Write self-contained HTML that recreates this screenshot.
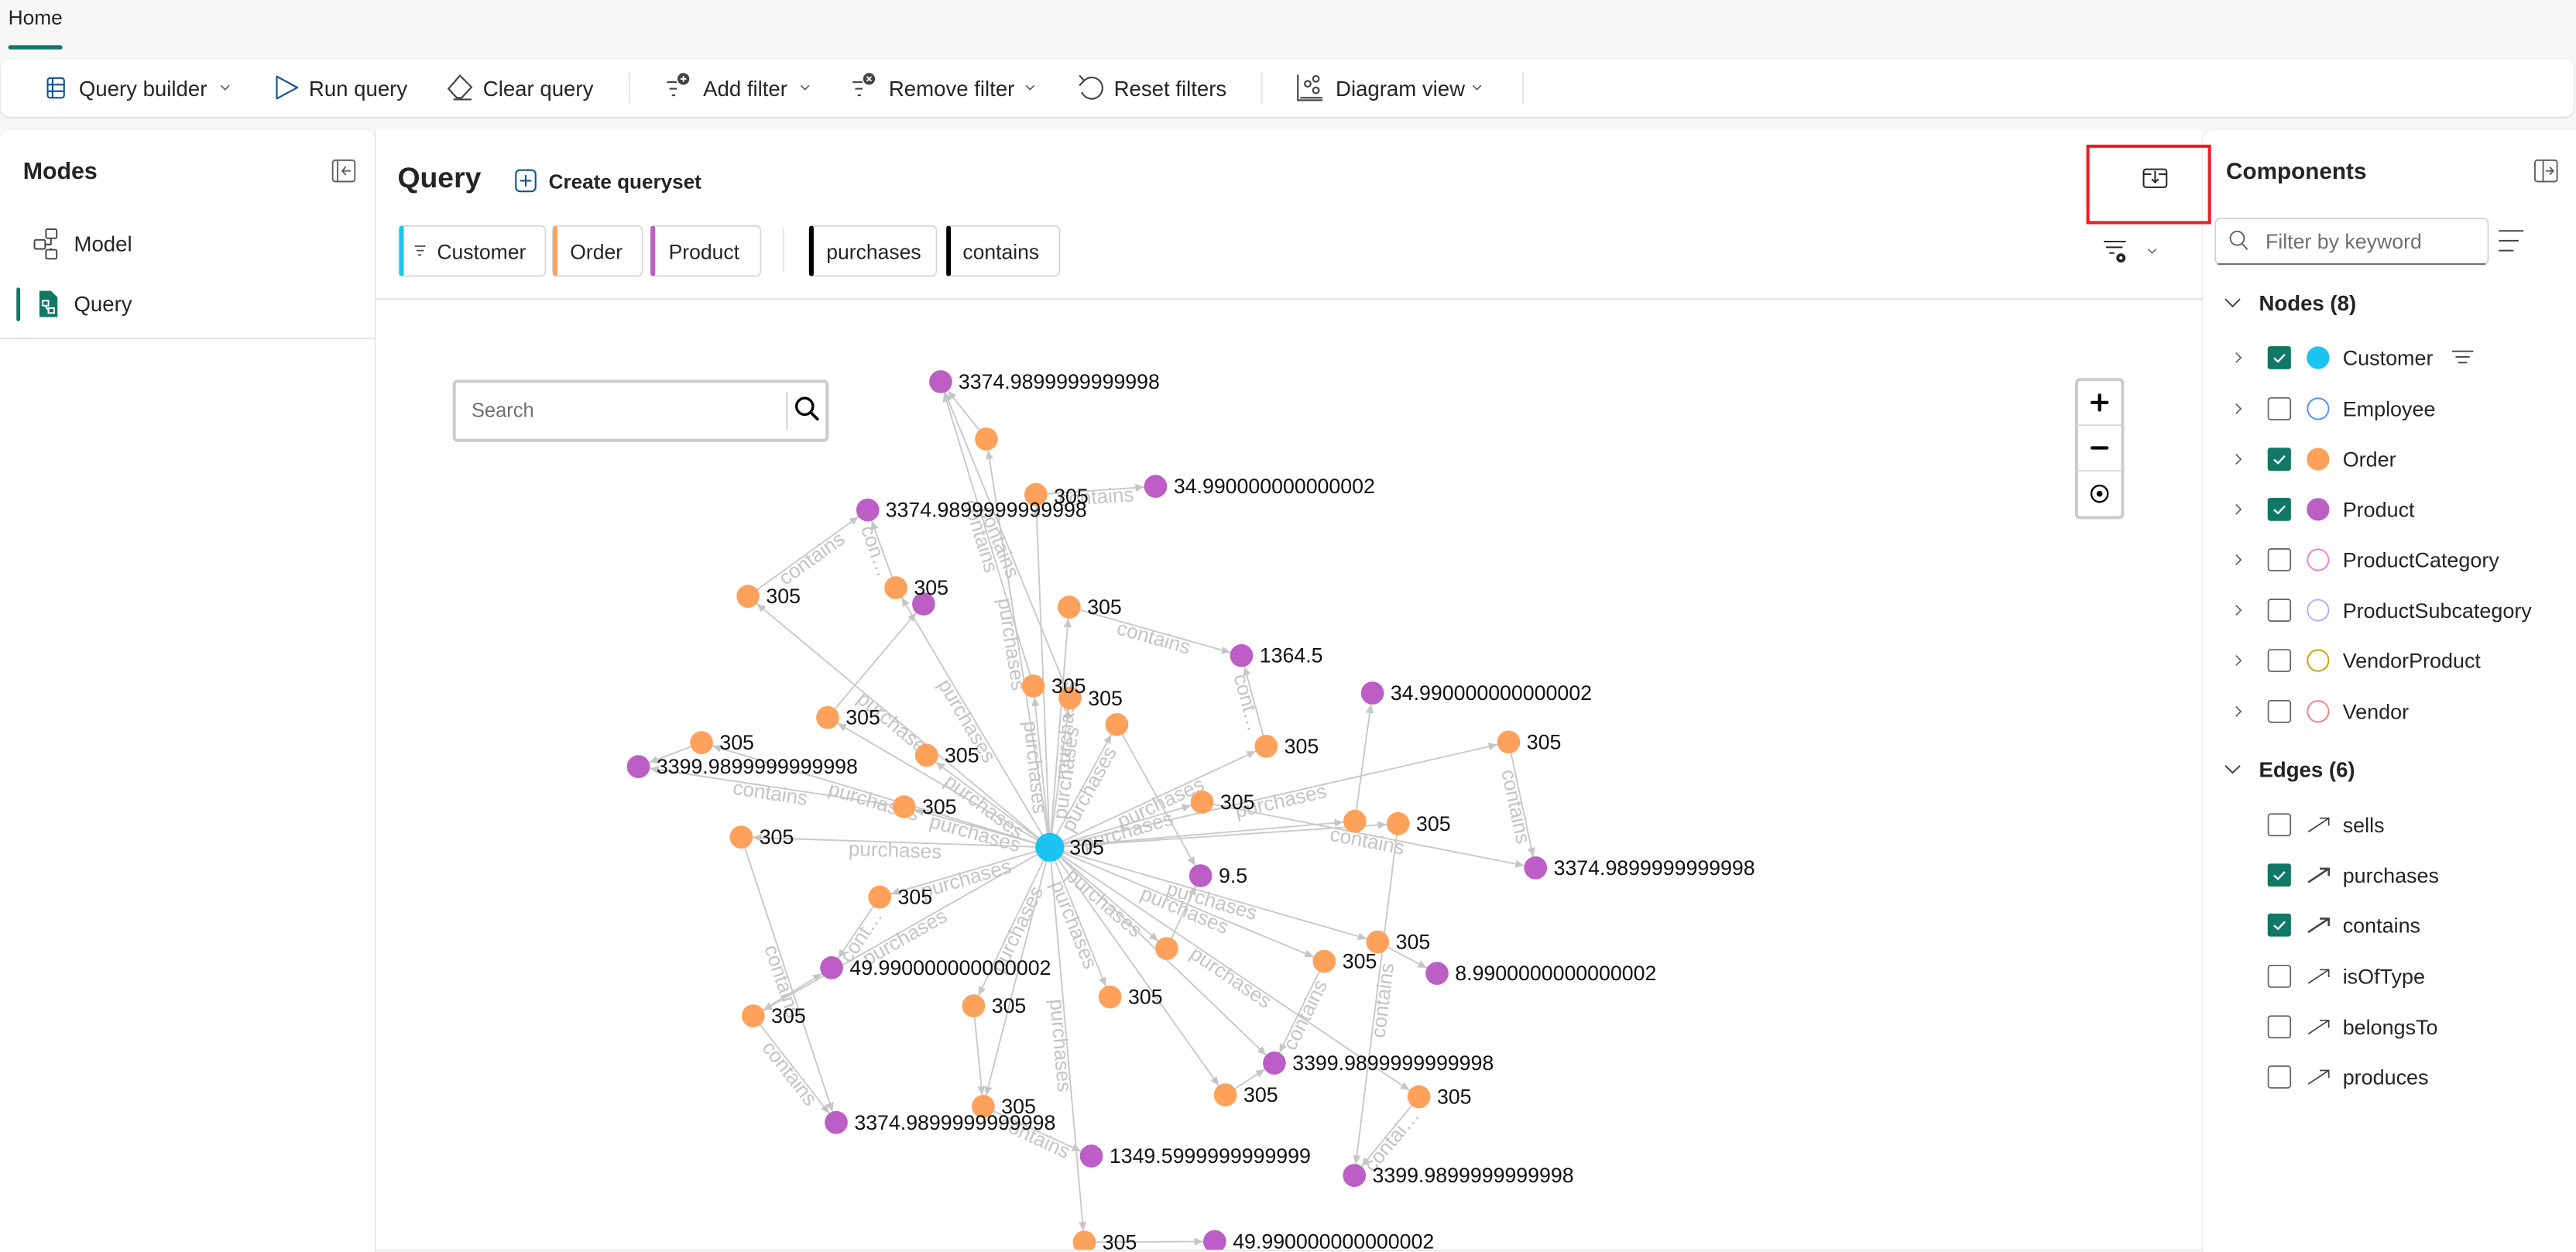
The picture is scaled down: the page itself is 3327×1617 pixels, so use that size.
<!DOCTYPE html>
<html><head><meta charset="utf-8"><style>
html,body{margin:0;padding:0;width:3327px;height:1617px;overflow:hidden;background:#f7f7f7}
svg{display:block}
</style></head><body>
<svg width="3327" height="1617" viewBox="0 0 1568 762" preserveAspectRatio="none" xmlns="http://www.w3.org/2000/svg" font-family="'Liberation Sans', Arial, sans-serif">
<defs>
<filter id="sh" x="-5%" y="-5%" width="110%" height="120%"><feDropShadow dx="0" dy="0.5" stdDeviation="0.8" flood-color="#000" flood-opacity="0.18"/></filter>
<marker id="a" markerUnits="userSpaceOnUse" orient="auto" refX="12.3" refY="0" markerWidth="8" markerHeight="8" style="overflow:visible"><path d="M0,-2.4 L5.3,0 L0,2.4 z" fill="#c6c6c6"/></marker>
<clipPath id="gc"><rect x="229" y="183" width="1111" height="578"/></clipPath>
</defs>
<rect x="0" y="0" width="1568" height="762" fill="#f7f7f7"/>

<!-- Home tab -->
<text x="5" y="10.5" font-size="12.4" fill="#242424" dominant-baseline="central">Home</text>
<rect x="5" y="27.5" width="33" height="2.6" rx="1.3" fill="#117865"/>

<!-- Toolbar -->
<rect x="0.5" y="36" width="1566" height="35" rx="5" fill="#fff" filter="url(#sh)"/>
<g font-size="13" fill="#242424">
<text x="48" y="54" dominant-baseline="central">Query builder</text>
<text x="188" y="54" dominant-baseline="central">Run query</text>
<text x="294" y="54" dominant-baseline="central">Clear query</text>
<text x="428" y="54" dominant-baseline="central">Add filter</text>
<text x="541" y="54" dominant-baseline="central">Remove filter</text>
<text x="678" y="54" dominant-baseline="central">Reset filters</text>
<text x="813" y="54" dominant-baseline="central">Diagram view</text>
</g>
<g stroke="#616161" stroke-width="0.8" fill="none">
<polyline points="134.5,52 137,54.5 139.5,52"/>
<polyline points="487.5,52 490,54.5 492.5,52"/>
<polyline points="624.5,52 627,54.5 629.5,52"/>
<polyline points="896.5,52 899,54.5 901.5,52"/>
</g>
<g stroke="#e0e0e0" stroke-width="0.8">
<line x1="383" y1="44" x2="383" y2="63"/><line x1="768" y1="44" x2="768" y2="63"/><line x1="927" y1="44" x2="927" y2="63"/>
</g>
<!-- toolbar icons -->
<g fill="none" stroke="#0f548c" stroke-width="1">
<rect x="29" y="47.5" width="10" height="12" rx="1.5"/><line x1="29" y1="51.5" x2="39" y2="51.5"/><line x1="29" y1="55.5" x2="39" y2="55.5"/><line x1="32" y1="47.5" x2="32" y2="59.5"/>
<path d="M168.5,46.5 L181,53.3 L168.5,60 Z" stroke-linejoin="round"/>
</g>
<g fill="none" stroke="#424242" stroke-width="1">
<path d="M280,46 L287,53 L281,59.5 L278,59.5 L273,54 Z"/><line x1="276" y1="60.5" x2="287" y2="60.5"/>
<line x1="406" y1="50" x2="412" y2="50"/><line x1="407.5" y1="54" x2="412" y2="54"/><line x1="409" y1="58" x2="411" y2="58"/>
<line x1="519" y1="50" x2="525" y2="50"/><line x1="520.5" y1="54" x2="525" y2="54"/><line x1="522" y1="58" x2="524" y2="58"/>
<path d="M660,49 A6.5,6.5 0 1 1 658.5,56"/><polyline points="657,46 660,49 657,52"/>
<polyline points="790,45.5 790,61 805,61"/><line x1="791.5" y1="59.5" x2="805" y2="59.5"/>
<circle cx="796" cy="51" r="1.8"/><circle cx="801" cy="48" r="1.8"/><circle cx="801" cy="55" r="1.8"/>
</g>
<circle cx="416" cy="48" r="3.6" fill="#424242"/><path d="M414.2,48 h3.6 M416,46.2 v3.6" stroke="#fff" stroke-width="0.9"/>
<circle cx="529" cy="48" r="3.6" fill="#424242"/><path d="M527.6,46.6 l2.8,2.8 M530.4,46.6 l-2.8,2.8" stroke="#fff" stroke-width="0.9"/>

<!-- Panels -->
<rect x="0" y="79" width="228" height="700" rx="6" fill="#fff" filter="url(#sh)"/>
<rect x="229" y="79" width="1112" height="700" fill="#fff"/>
<line x1="228.6" y1="79" x2="228.6" y2="762" stroke="#ececec" stroke-width="0.8"/>
<rect x="1341" y="79" width="232" height="700" rx="6" fill="#fff" filter="url(#sh)"/>

<!-- Left panel -->
<text x="14" y="104.5" font-size="14.3" font-weight="bold" fill="#242424" dominant-baseline="central">Modes</text>
<g fill="none" stroke="#616161" stroke-width="0.9">
<rect x="202.5" y="97.5" width="13.5" height="13" rx="1.5"/><line x1="205.5" y1="97.5" x2="205.5" y2="110.5"/>
<line x1="208.5" y1="104" x2="213.5" y2="104"/><polyline points="210.5,101.5 208.3,104 210.5,106.5"/>
</g>
<g fill="none" stroke="#424242" stroke-width="0.9">
<rect x="28" y="139.5" width="6.5" height="5.5" rx="0.8"/><rect x="21" y="146" width="6.5" height="5.5" rx="0.8"/><rect x="28" y="152" width="6.5" height="5.5" rx="0.8"/>
<polyline points="27.5,148.8 31,148.8 31,145"/><polyline points="31,151 31,152"/>
</g>
<text x="45" y="148.5" font-size="13" fill="#242424" dominant-baseline="central">Model</text>
<rect x="10" y="175" width="2.3" height="20.5" rx="1.1" fill="#117865"/>
<path d="M24,177 L31,177 L35,181 L35,193 L24,193 Z" fill="#117865"/>
<g fill="none" stroke="#fff" stroke-width="0.9"><rect x="26" y="183" width="3.5" height="3"/><rect x="29.5" y="187.5" width="3.5" height="3"/><line x1="27.5" y1="186" x2="29.5" y2="189"/></g>
<text x="45" y="185" font-size="13" fill="#242424" dominant-baseline="central">Query</text>
<line x1="0" y1="206" x2="228" y2="206" stroke="#e3e3e3" stroke-width="0.9"/>

<!-- Center header -->
<text x="242" y="108" font-size="17.6" font-weight="bold" fill="#242424" dominant-baseline="central">Query</text>
<rect x="314" y="103.5" width="12" height="13" rx="2.5" fill="none" stroke="#0f548c" stroke-width="1"/>
<path d="M320,106.5 v7 M316.5,110 h7" stroke="#0f548c" stroke-width="1"/>
<text x="334" y="110.5" font-size="12.3" font-weight="bold" fill="#242424" dominant-baseline="central">Create queryset</text>

<!-- chips -->
<g fill="#fff" stroke="#d4d4d4" stroke-width="0.8">
<rect x="243" y="137.5" width="89" height="30.5" rx="3"/>
<rect x="336.5" y="137.5" width="54.5" height="30.5" rx="3"/>
<rect x="396" y="137.5" width="67" height="30.5" rx="3"/>
<rect x="492.5" y="137.5" width="77.5" height="30.5" rx="3"/>
<rect x="576" y="137.5" width="69" height="30.5" rx="3"/>
</g>
<rect x="243" y="137.5" width="2.8" height="30.5" rx="1.2" fill="#1bc4f0"/>
<rect x="336.5" y="137.5" width="2.8" height="30.5" rx="1.2" fill="#fda15b"/>
<rect x="396" y="137.5" width="2.8" height="30.5" rx="1.2" fill="#bd5ec6"/>
<rect x="492.5" y="137.5" width="2.8" height="30.5" rx="1.2" fill="#000"/>
<rect x="576" y="137.5" width="2.8" height="30.5" rx="1.2" fill="#000"/>
<g stroke="#424242" stroke-width="0.8"><line x1="252.5" y1="149.8" x2="259" y2="149.8"/><line x1="253.5" y1="152.5" x2="258" y2="152.5"/><line x1="254.5" y1="155.2" x2="256.5" y2="155.2"/></g>
<g font-size="12.5" fill="#242424">
<text x="266" y="153.5" dominant-baseline="central">Customer</text>
<text x="347" y="153.5" dominant-baseline="central">Order</text>
<text x="407" y="153.5" dominant-baseline="central">Product</text>
<text x="503" y="153.5" dominant-baseline="central">purchases</text>
<text x="586" y="153.5" dominant-baseline="central">contains</text>
</g>
<line x1="477" y1="139" x2="477" y2="166" stroke="#e0e0e0" stroke-width="0.8"/>
<line x1="229" y1="182" x2="1341" y2="182" stroke="#e0e0e0" stroke-width="1"/>

<!-- red box & icon -->
<rect x="1270.9" y="89" width="74" height="46.5" fill="none" stroke="#ed1c24" stroke-width="1.9"/>
<g fill="none" stroke="#242424" stroke-width="0.95">
<rect x="1304.8" y="103" width="14" height="11" rx="1.5"/>
<polyline points="1304.8,106 1309.5,106"/><polyline points="1314,106 1318.8,106"/>
<line x1="1311.8" y1="104" x2="1311.8" y2="111"/><polyline points="1309.8,109 1311.8,111 1313.8,109"/>
</g>
<!-- filter settings icon -->
<g stroke="#242424" stroke-width="0.9" fill="none">
<line x1="1280.5" y1="147" x2="1294" y2="147"/><line x1="1282" y1="150.5" x2="1292" y2="150.5"/><line x1="1284" y1="154" x2="1287" y2="154"/>
<polyline points="1307.5,151.5 1310,154 1312.5,151.5" stroke="#616161" stroke-width="0.7"/>
</g>
<circle cx="1291" cy="157" r="2.8" fill="#242424"/><circle cx="1291" cy="157" r="1" fill="#fff"/>

<!-- Graph -->
<g clip-path="url(#gc)">
<g stroke="#c9c9c9" stroke-width="0.9" fill="none" marker-end="url(#a)">
<line x1="639" y1="515.7" x2="600.4" y2="267.2"/>
<line x1="639" y1="515.7" x2="630.5" y2="301"/>
<line x1="639" y1="515.7" x2="455.3" y2="362.9"/>
<line x1="639" y1="515.7" x2="545.3" y2="357.7"/>
<line x1="639" y1="515.7" x2="650.8" y2="369.5"/>
<line x1="639" y1="515.7" x2="629" y2="417.5"/>
<line x1="639" y1="515.7" x2="651.3" y2="424.8"/>
<line x1="639" y1="515.7" x2="679.8" y2="441"/>
<line x1="639" y1="515.7" x2="503.8" y2="436.7"/>
<line x1="639" y1="515.7" x2="427" y2="452"/>
<line x1="639" y1="515.7" x2="564" y2="459.7"/>
<line x1="639" y1="515.7" x2="770.7" y2="454.2"/>
<line x1="639" y1="515.7" x2="918.3" y2="451.6"/>
<line x1="639" y1="515.7" x2="550.3" y2="491"/>
<line x1="639" y1="515.7" x2="731.7" y2="488.2"/>
<line x1="639" y1="515.7" x2="824.7" y2="499.8"/>
<line x1="639" y1="515.7" x2="851" y2="501.3"/>
<line x1="639" y1="515.7" x2="451.2" y2="509.5"/>
<line x1="639" y1="515.7" x2="535.5" y2="546"/>
<line x1="639" y1="515.7" x2="710.2" y2="577.3"/>
<line x1="639" y1="515.7" x2="838.6" y2="573.3"/>
<line x1="639" y1="515.7" x2="806.1" y2="585.1"/>
<line x1="639" y1="515.7" x2="592.6" y2="612.2"/>
<line x1="639" y1="515.7" x2="675.7" y2="606.8"/>
<line x1="639" y1="515.7" x2="458.5" y2="618.3"/>
<line x1="639" y1="515.7" x2="745.9" y2="666.4"/>
<line x1="639" y1="515.7" x2="863.7" y2="667.5"/>
<line x1="639" y1="515.7" x2="598.5" y2="673.4"/>
<line x1="639" y1="515.7" x2="660" y2="756"/>
<line x1="639" y1="515.7" x2="775.7" y2="647"/>
<line x1="600.4" y1="267.2" x2="572.6" y2="232.3"/>
<line x1="629" y1="417.5" x2="572.6" y2="232.3"/>
<line x1="651.3" y1="424.8" x2="572.6" y2="232.3"/>
<line x1="630.5" y1="301" x2="703.4" y2="296"/>
<line x1="455.3" y1="362.9" x2="528.2" y2="310.4"/>
<line x1="545.3" y1="357.7" x2="528.2" y2="310.4"/>
<line x1="503.8" y1="436.7" x2="562.2" y2="367.6"/>
<line x1="650.8" y1="369.5" x2="755.7" y2="399"/>
<line x1="770.7" y1="454.2" x2="755.7" y2="399"/>
<line x1="824.7" y1="499.8" x2="835.4" y2="421.8"/>
<line x1="427" y1="452" x2="388.6" y2="466.6"/>
<line x1="550.3" y1="491" x2="388.6" y2="466.6"/>
<line x1="918.3" y1="451.6" x2="934.7" y2="528.2"/>
<line x1="731.7" y1="488.2" x2="934.7" y2="528.2"/>
<line x1="679.8" y1="441" x2="730.8" y2="533"/>
<line x1="710.2" y1="577.3" x2="730.8" y2="533"/>
<line x1="535.5" y1="546" x2="506.2" y2="589"/>
<line x1="458.5" y1="618.3" x2="506.2" y2="589"/>
<line x1="451.2" y1="509.5" x2="509" y2="683.2"/>
<line x1="458.5" y1="618.3" x2="509" y2="683.2"/>
<line x1="838.6" y1="573.3" x2="874.7" y2="592.4"/>
<line x1="851" y1="501.3" x2="824.4" y2="715.4"/>
<line x1="806.1" y1="585.1" x2="775.7" y2="647"/>
<line x1="745.9" y1="666.4" x2="775.7" y2="647"/>
<line x1="863.7" y1="667.5" x2="824.4" y2="715.4"/>
<line x1="592.6" y1="612.2" x2="598.5" y2="673.4"/>
<line x1="598.5" y1="673.4" x2="664.3" y2="703.6"/>
<line x1="660" y1="756" x2="739.4" y2="755.6"/>
</g>
<g font-size="12.3" fill="#c4c4c4" text-anchor="middle">
<text transform="translate(547.2,439.3) rotate(39.8)" y="7">purchases</text>
<text transform="translate(545,512.6) rotate(1.9)" y="9">purchases</text>
<text transform="translate(533,484) rotate(16.7)" y="8">purchases</text>
<text transform="translate(594.6,503.3) rotate(15.6)" y="8">purchases</text>
<text transform="translate(601.5,487.7) rotate(36.7)" y="8">purchases</text>
<text transform="translate(587,531) rotate(-16.3)" y="8">purchases</text>
<text transform="translate(548.8,567) rotate(-29.6)" y="8">purchases</text>
<text transform="translate(592,436.7) rotate(59.3)" y="8">purchases</text>
<text transform="translate(634,466.6) rotate(84.2)" y="8">purchases</text>
<text transform="translate(645,470) rotate(-82.3)" y="8">purchases</text>
<text transform="translate(645,442.6) rotate(-85.4)" y="8">purchases</text>
<text transform="translate(619.7,391.5) rotate(81.2)" y="8">purchases</text>
<text transform="translate(659.4,478.4) rotate(-61.4)" y="8">purchases</text>
<text transform="translate(685.4,502) rotate(-16.5)" y="8">purchases</text>
<text transform="translate(704.9,485) rotate(-25)" y="8">purchases</text>
<text transform="translate(778.7,483.7) rotate(-12.9)" y="8">purchases</text>
<text transform="translate(674.6,546.5) rotate(40.9)" y="8">purchases</text>
<text transform="translate(738.8,544.5) rotate(16.1)" y="8">purchases</text>
<text transform="translate(722.6,550.4) rotate(22.6)" y="8">purchases</text>
<text transform="translate(751.4,591.6) rotate(34)" y="8">purchases</text>
<text transform="translate(657.4,561.3) rotate(68)" y="8">purchases</text>
<text transform="translate(615.8,564) rotate(-64.3)" y="8">purchases</text>
<text transform="translate(649.5,635.9) rotate(85)" y="8">purchases</text>
<text transform="translate(600.8,325) rotate(73)" y="8">contains</text>
<text transform="translate(612,328.5) rotate(67.8)" y="8">contains</text>
<text transform="translate(667,298.5) rotate(-3.9)" y="8">contains</text>
<text transform="translate(491.8,336.7) rotate(-35.8)" y="8">contains</text>
<text transform="translate(536.8,334) rotate(70)" y="8">con…</text>
<text transform="translate(703.3,384.3) rotate(15.7)" y="8">contains</text>
<text transform="translate(763.2,426.6) rotate(74.8)" y="8">cont…</text>
<text transform="translate(469.5,478.8) rotate(8.6)" y="8">contains</text>
<text transform="translate(926.5,490) rotate(78)" y="8">contains</text>
<text transform="translate(833,508) rotate(11)" y="8">contains</text>
<text transform="translate(520.9,567.5) rotate(-55.7)" y="8">cont…</text>
<text transform="translate(480,596) rotate(71.6)" y="8">contains</text>
<text transform="translate(483.8,650.8) rotate(52)" y="8">contains</text>
<text transform="translate(837.7,608.4) rotate(-82.9)" y="8">contains</text>
<text transform="translate(790.9,616) rotate(-63.8)" y="8">contains</text>
<text transform="translate(844,691.5) rotate(-50.6)" y="8">contai…</text>
<text transform="translate(631.4,688.5) rotate(24.7)" y="8">contains</text>
</g>
<g>
<g fill="#bd5ec6">
<circle cx="572.6" cy="232.3" r="7"/><circle cx="703.4" cy="296" r="7"/><circle cx="528.2" cy="310.4" r="7"/><circle cx="562.2" cy="367.6" r="7"/>
<circle cx="755.7" cy="399" r="7"/><circle cx="835.4" cy="421.8" r="7"/><circle cx="388.6" cy="466.6" r="7"/><circle cx="934.7" cy="528.2" r="7"/>
<circle cx="730.8" cy="533" r="7"/><circle cx="506.2" cy="589" r="7"/><circle cx="874.7" cy="592.4" r="7"/><circle cx="775.7" cy="647" r="7"/>
<circle cx="509" cy="683.2" r="7"/><circle cx="664.3" cy="703.6" r="7"/><circle cx="824.4" cy="715.4" r="7"/><circle cx="739.4" cy="755.6" r="7"/>
</g>
<g fill="#fda15b">
<circle cx="600.4" cy="267.2" r="7"/><circle cx="630.5" cy="301" r="7"/><circle cx="455.3" cy="362.9" r="7"/><circle cx="545.3" cy="357.7" r="7"/>
<circle cx="650.8" cy="369.5" r="7"/><circle cx="629" cy="417.5" r="7"/><circle cx="651.3" cy="424.8" r="7"/><circle cx="679.8" cy="441" r="7"/>
<circle cx="503.8" cy="436.7" r="7"/><circle cx="427" cy="452" r="7"/><circle cx="564" cy="459.7" r="7"/><circle cx="770.7" cy="454.2" r="7"/>
<circle cx="918.3" cy="451.6" r="7"/><circle cx="550.3" cy="491" r="7"/><circle cx="731.7" cy="488.2" r="7"/><circle cx="824.7" cy="499.8" r="7"/>
<circle cx="851" cy="501.3" r="7"/><circle cx="451.2" cy="509.5" r="7"/><circle cx="535.5" cy="546" r="7"/><circle cx="710.2" cy="577.3" r="7"/>
<circle cx="838.6" cy="573.3" r="7"/><circle cx="806.1" cy="585.1" r="7"/><circle cx="592.6" cy="612.2" r="7"/><circle cx="675.7" cy="606.8" r="7"/>
<circle cx="458.5" cy="618.3" r="7"/><circle cx="745.9" cy="666.4" r="7"/><circle cx="863.7" cy="667.5" r="7"/><circle cx="598.5" cy="673.4" r="7"/>
<circle cx="660" cy="756" r="7"/>
</g>
<circle cx="639" cy="515.7" r="8.8" fill="#1bc4f0"/>
</g>
<g font-size="12.6" fill="#111" dominant-baseline="central">
<text x="583.4" y="232.3">3374.9899999999998</text>
<text x="641.5" y="302">305</text>
<text x="714.4" y="296">34.990000000000002</text>
<text x="539" y="310.4">3374.9899999999998</text>
<text x="466.3" y="362.9">305</text>
<text x="556.3" y="357.7">305</text>
<text x="661.8" y="369.5">305</text>
<text x="766.7" y="399">1364.5</text>
<text x="640" y="417.5">305</text>
<text x="662.3" y="425">305</text>
<text x="514.8" y="436.7">305</text>
<text x="846.4" y="421.8">34.990000000000002</text>
<text x="438" y="452">305</text>
<text x="399.6" y="466.6">3399.9899999999998</text>
<text x="575" y="459.7">305</text>
<text x="781.7" y="454.2">305</text>
<text x="929.3" y="451.6">305</text>
<text x="561.3" y="491">305</text>
<text x="742.7" y="488.2">305</text>
<text x="862" y="501.3">305</text>
<text x="462.2" y="509.5">305</text>
<text x="651" y="515.7">305</text>
<text x="945.7" y="528.2">3374.9899999999998</text>
<text x="741.8" y="533">9.5</text>
<text x="546.5" y="546">305</text>
<text x="517.2" y="589">49.990000000000002</text>
<text x="849.6" y="573.3">305</text>
<text x="817.1" y="585.1">305</text>
<text x="885.7" y="592.4">8.9900000000000002</text>
<text x="603.6" y="612.2">305</text>
<text x="686.7" y="606.8">305</text>
<text x="469.5" y="618.3">305</text>
<text x="786.7" y="647">3399.9899999999998</text>
<text x="756.9" y="666.4">305</text>
<text x="874.7" y="667.5">305</text>
<text x="609.5" y="673.4">305</text>
<text x="520" y="683.2">3374.9899999999998</text>
<text x="675.3" y="703.6">1349.5999999999999</text>
<text x="835.4" y="715.4">3399.9899999999998</text>
<text x="671" y="756">305</text>
<text x="750.4" y="755.6">49.990000000000002</text>
</g>
</g>

<!-- graph search box -->
<rect x="276.5" y="232" width="227" height="36" rx="2" fill="#fff" stroke="#cccccc" stroke-width="1.9"/>
<text x="287" y="250" font-size="12" fill="#707070" dominant-baseline="central">Search</text>
<line x1="479" y1="238.5" x2="479" y2="262" stroke="#cccccc" stroke-width="0.8"/>
<circle cx="489.8" cy="247.3" r="5" fill="none" stroke="#000" stroke-width="1.6"/>
<line x1="493.4" y1="250.9" x2="497.6" y2="255.1" stroke="#000" stroke-width="1.7" stroke-linecap="round"/>

<!-- zoom control -->
<rect x="1264" y="231" width="28" height="84" rx="2" fill="#fff" stroke="#cccccc" stroke-width="1.9"/>
<line x1="1264.5" y1="258.7" x2="1291.5" y2="258.7" stroke="#d4d4d4" stroke-width="0.7"/>
<line x1="1264.5" y1="286.5" x2="1291.5" y2="286.5" stroke="#d4d4d4" stroke-width="0.7"/>
<path d="M1273.5,245 h9 M1278,240.5 v9" stroke="#000" stroke-width="2" stroke-linecap="round"/>
<path d="M1273.5,272.6 h9" stroke="#000" stroke-width="2" stroke-linecap="round"/>
<circle cx="1278" cy="300.5" r="5" fill="none" stroke="#000" stroke-width="1.1"/>
<circle cx="1278" cy="300.5" r="1.8" fill="#000"/>

<!-- Right panel -->
<text x="1355" y="104.5" font-size="14" font-weight="bold" fill="#242424" dominant-baseline="central">Components</text>
<g fill="none" stroke="#616161" stroke-width="0.9">
<rect x="1543" y="97.5" width="13.5" height="13" rx="1.5"/><line x1="1548" y1="97.5" x2="1548" y2="110.5"/>
<line x1="1549.5" y1="104" x2="1554" y2="104"/><polyline points="1552,101.7 1554.2,104 1552,106.3"/>
</g>
<rect x="1348.5" y="133" width="166" height="28" rx="3" fill="#fff" stroke="#d1d1d1" stroke-width="0.8"/>
<line x1="1350" y1="160.7" x2="1513" y2="160.7" stroke="#616161" stroke-width="0.8"/>
<circle cx="1361.8" cy="145" r="4.2" fill="none" stroke="#616161" stroke-width="0.9"/>
<line x1="1364.7" y1="148.2" x2="1368" y2="152" stroke="#616161" stroke-width="0.9"/>
<text x="1379" y="147" font-size="12.6" fill="#707070" dominant-baseline="central">Filter by keyword</text>
<g stroke="#424242" stroke-width="0.9"><line x1="1521" y1="140.5" x2="1536" y2="140.5"/><line x1="1521" y1="146.5" x2="1533" y2="146.5"/><line x1="1521" y1="152.5" x2="1530" y2="152.5"/></g>

<polyline points="1354.5,182 1359,186.5 1363.5,182" fill="none" stroke="#424242" stroke-width="0.9"/>
<text x="1375" y="184.5" font-size="13" font-weight="bold" fill="#242424" dominant-baseline="central">Nodes (8)</text>

<g fill="none" stroke="#616161" stroke-width="0.8">
<polyline points="1361,214.7 1364,217.7 1361,220.7"/>
<polyline points="1361,245.8 1364,248.8 1361,251.8"/>
<polyline points="1361,276.5 1364,279.5 1361,282.5"/>
<polyline points="1361,307 1364,310 1361,313"/>
<polyline points="1361,337.7 1364,340.7 1361,343.7"/>
<polyline points="1361,368.4 1364,371.4 1361,374.4"/>
<polyline points="1361,399 1364,402 1361,405"/>
<polyline points="1361,430 1364,433 1361,436"/>
</g>
<!-- checkboxes nodes -->
<g>
<rect x="1380.3" y="210.7" width="14.2" height="14" rx="1.5" fill="#117865"/>
<rect x="1380.7" y="242.2" width="13.5" height="13.2" rx="1.5" fill="#fff" stroke="#616161" stroke-width="0.8"/>
<rect x="1380.3" y="272.5" width="14.2" height="14" rx="1.5" fill="#117865"/>
<rect x="1380.3" y="303" width="14.2" height="14" rx="1.5" fill="#117865"/>
<rect x="1380.7" y="334.1" width="13.5" height="13.2" rx="1.5" fill="#fff" stroke="#616161" stroke-width="0.8"/>
<rect x="1380.7" y="364.8" width="13.5" height="13.2" rx="1.5" fill="#fff" stroke="#616161" stroke-width="0.8"/>
<rect x="1380.7" y="395.4" width="13.5" height="13.2" rx="1.5" fill="#fff" stroke="#616161" stroke-width="0.8"/>
<rect x="1380.7" y="426.4" width="13.5" height="13.2" rx="1.5" fill="#fff" stroke="#616161" stroke-width="0.8"/>
</g>
<g fill="none" stroke="#fff" stroke-width="1.1">
<polyline points="1384.2,217.9 1386.6,220.1 1390.8,215.7"/>
<polyline points="1384.2,279.7 1386.6,281.9 1390.8,277.5"/>
<polyline points="1384.2,310.2 1386.6,312.4 1390.8,308"/>
</g>
<circle cx="1411" cy="217.7" r="6.9" fill="#1bc4f0"/>
<circle cx="1411" cy="248.8" r="6.4" fill="none" stroke="#4f8ff0" stroke-width="0.9"/>
<circle cx="1411" cy="279.5" r="6.9" fill="#fda15b"/>
<circle cx="1411" cy="310" r="6.9" fill="#bd5ec6"/>
<circle cx="1411" cy="340.7" r="6.4" fill="none" stroke="#f07ad8" stroke-width="0.9"/>
<circle cx="1411" cy="371.4" r="6.4" fill="none" stroke="#b9a9fa" stroke-width="0.9"/>
<circle cx="1411" cy="402" r="6.4" fill="none" stroke="#c9a100" stroke-width="0.9"/>
<circle cx="1411" cy="433" r="6.4" fill="none" stroke="#f47e7e" stroke-width="0.9"/>
<g font-size="12.7" fill="#242424">
<text x="1426" y="218" dominant-baseline="central">Customer</text>
<text x="1426" y="249" dominant-baseline="central">Employee</text>
<text x="1426" y="279.8" dominant-baseline="central">Order</text>
<text x="1426" y="310.3" dominant-baseline="central">Product</text>
<text x="1426" y="341" dominant-baseline="central">ProductCategory</text>
<text x="1426" y="371.7" dominant-baseline="central">ProductSubcategory</text>
<text x="1426" y="402.3" dominant-baseline="central">VendorProduct</text>
<text x="1426" y="433.3" dominant-baseline="central">Vendor</text>
</g>
<g stroke="#424242" stroke-width="0.9"><line x1="1492.5" y1="213.8" x2="1505.5" y2="213.8"/><line x1="1494.7" y1="217.2" x2="1503.3" y2="217.2"/><line x1="1496.3" y1="220.7" x2="1501.7" y2="220.7"/></g>

<polyline points="1354.5,466 1359,470.3 1363.5,466" fill="none" stroke="#424242" stroke-width="0.9"/>
<text x="1375" y="468.5" font-size="13" font-weight="bold" fill="#242424" dominant-baseline="central">Edges (6)</text>
<g>
<rect x="1380.7" y="495.4" width="13.5" height="13.2" rx="1.5" fill="#fff" stroke="#616161" stroke-width="0.8"/>
<rect x="1380.3" y="525.6" width="14.2" height="14" rx="1.5" fill="#117865"/>
<rect x="1380.3" y="556" width="14.2" height="14" rx="1.5" fill="#117865"/>
<rect x="1380.7" y="587.6" width="13.5" height="13.2" rx="1.5" fill="#fff" stroke="#616161" stroke-width="0.8"/>
<rect x="1380.7" y="618.4" width="13.5" height="13.2" rx="1.5" fill="#fff" stroke="#616161" stroke-width="0.8"/>
<rect x="1380.7" y="648.9" width="13.5" height="13.2" rx="1.5" fill="#fff" stroke="#616161" stroke-width="0.8"/>
</g>
<g fill="none" stroke="#fff" stroke-width="1.1">
<polyline points="1384.2,532.8 1386.6,535 1390.8,530.6"/>
<polyline points="1384.2,563.2 1386.6,565.4 1390.8,561"/>
</g>
<g fill="none" stroke="#424242" stroke-width="0.8">
<path d="M1405,506.3 L1417.5,498 M1412,498 L1417.5,498 L1417.5,502.5"/>
<path d="M1405,537 L1417.5,528.7 M1412,528.7 L1417.5,528.7 L1417.5,533.2" stroke-width="1.2"/>
<path d="M1405,567.4 L1417.5,559.1 M1412,559.1 L1417.5,559.1 L1417.5,563.6" stroke-width="1.2"/>
<path d="M1405,598.5 L1417.5,590.2 M1412,590.2 L1417.5,590.2 L1417.5,594.7"/>
<path d="M1405,629.3 L1417.5,621 M1412,621 L1417.5,621 L1417.5,625.5"/>
<path d="M1405,659.8 L1417.5,651.5 M1412,651.5 L1417.5,651.5 L1417.5,656"/>
</g>
<g font-size="12.7" fill="#242424">
<text x="1426" y="502.3" dominant-baseline="central">sells</text>
<text x="1426" y="532.9" dominant-baseline="central">purchases</text>
<text x="1426" y="563.3" dominant-baseline="central">contains</text>
<text x="1426" y="594.5" dominant-baseline="central">isOfType</text>
<text x="1426" y="625.3" dominant-baseline="central">belongsTo</text>
<text x="1426" y="655.8" dominant-baseline="central">produces</text>
</g>
<line x1="229" y1="761" x2="1341" y2="761" stroke="#e6e6e6" stroke-width="0.8"/>
</svg>
</body></html>
